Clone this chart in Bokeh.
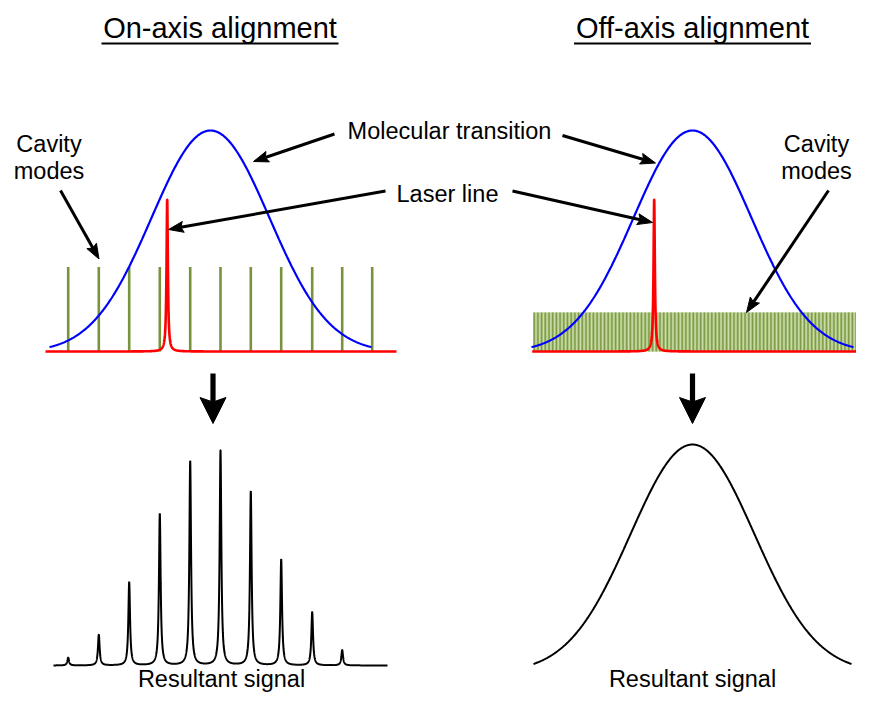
import numpy as np
from bokeh.plotting import figure
from bokeh.models import Range1d
from bokeh.embed import file_html
from bokeh.resources import INLINE
from bokeh.core.properties import value

# ---------------- data (diagram units) ----------------
# panel titles
titles = ["On-axis alignment", "Off-axis alignment"]
title_x = [219.5, 692.0]

# molecular transition (Gaussian) for each panel
transition_center = [210.0, 692.0]
transition_amp = 222.0
transition_sigma = 59.0
transition_half_span = 161.0

# cavity modes, on-axis (discrete comb)
mode_x = [67.7, 98.3, 128.7, 159.3, 189.7, 220.0, 250.3, 280.7, 311.7, 341.7, 371.7]
mode_height = 84.5

# off-axis: dense continuum of modes (band)
band_left, band_right, band_height = 532.7, 866.7, 39.0

# laser line
laser_x = [166.7, 653.7]
laser_height = 152.0
laser_gamma = 0.8

# resultant signal, on-axis: peak heights at each cavity mode
signal_heights = [7.7, 30.7, 83.3, 151.7, 204.3, 215.0, 174.0, 106.0, 53.3, 15.3, 0.0]
signal_gamma = 1.0

# resultant signal, off-axis: smooth Gaussian
offaxis_center = 692.0
offaxis_amp = 228.0
offaxis_sigma = 62.0
offaxis_half_span = 159.0

# annotation labels (alphabetic baselines)
label_text = ["Molecular transition", "Laser line", "Cavity", "modes", "Cavity", "modes",
              "Resultant signal", "Resultant signal"]
label_x = [449.0, 447.0, 48.5, 48.5, 816.0, 816.0, 221.0, 692.0]
label_base = [138.5, 201.5, 152.0, 178.5, 152.0, 178.5, 687.0, 687.0]

# annotation arrows (start -> tip)
arrow_x0 = [334.0, 562.0, 385.0, 512.0, 60.0, 828.0]
arrow_y0 = [133.5, 135.0, 190.5, 190.5, 190.0, 190.0]
arrow_x1 = [253.0, 655.0, 168.0, 652.0, 98.5, 746.0]
arrow_y1 = [161.0, 162.5, 229.0, 222.0, 258.5, 312.0]

# block arrows pointing down to the resultant signal
down_x = [212.5, 692.0]

# ---------------- figure ----------------
W, H = 856, 694
p = figure(width=W, height=H, output_backend="svg", toolbar_location=None,
           x_range=Range1d(0, W), y_range=Range1d(H, 0),
           min_border=0, outline_line_color=None)
p.axis.visible = False
p.xgrid.visible = False
p.ygrid.visible = False
p.background_fill_color = "white"
p.border_fill_color = "white"

FONT = value("Liberation Sans")
BASE_TOP = 351.0      # spectrum baseline (top panels)
BASE_BOT = 665.0      # resultant baseline (bottom panels)
LABEL_PX = 23.5
TITLE_PX = 29.0
SHIFT = 0.35          # renderer places alphabetic text this many em lower

# ---- titles with underline ----
p.text(x=title_x, y=[38.0 - SHIFT * TITLE_PX] * 2, text=titles, text_align="center",
       text_baseline="alphabetic", text_font=FONT, text_font_size=value(f"{TITLE_PX}px"),
       text_color="black")
p.segment(x0=[x - 118.5 for x in title_x], y0=[43.0, 43.0],
          x1=[x + 118.5 for x in title_x], y1=[43.0, 43.0],
          line_color="black", line_width=2.2)

# ---- off-axis mode band ----
p.quad(left=[band_left], right=[band_right], top=[BASE_TOP - band_height],
       bottom=[BASE_TOP], fill_color="#A9C27C", line_color=None)
sx = np.arange(band_left + 1.0, band_right, 3.7)
p.segment(x0=sx, y0=np.full(len(sx), BASE_TOP - band_height), x1=sx,
          y1=np.full(len(sx), BASE_TOP), line_color="#7F9B49", line_width=1.3)
sx2 = sx + 1.85
sx2 = sx2[sx2 < band_right]
p.segment(x0=sx2, y0=np.full(len(sx2), BASE_TOP - band_height), x1=sx2,
          y1=np.full(len(sx2), BASE_TOP), line_color="#CCDCAA", line_width=1.1)

# ---- on-axis cavity modes ----
p.segment(x0=mode_x, y0=[BASE_TOP] * len(mode_x), x1=mode_x,
          y1=[BASE_TOP - mode_height] * len(mode_x), line_color="#77933C", line_width=2.6)

# ---- molecular transitions (blue) ----
for c in transition_center:
    xs = np.linspace(c - transition_half_span, c + transition_half_span, 500)
    ys = BASE_TOP + 1.0 - transition_amp * np.exp(-(xs - c) ** 2 / (2 * transition_sigma ** 2))
    p.line(xs, ys, line_color="#0000FF", line_width=2.2)

# ---- laser lines (red) ----
red_ranges = [(45.0, 396.0), (531.7, 872.0)]
for (a, b), lx in zip(red_ranges, laser_x):
    xs = np.unique(np.concatenate([np.linspace(a, b, 600), np.linspace(lx - 8, lx + 8, 400)]))
    ys = BASE_TOP - laser_height * laser_gamma ** 2 / ((xs - lx) ** 2 + laser_gamma ** 2)
    p.line(xs, ys, line_color="#FF0000", line_width=2.6)

# ---- resultant signal, on-axis ----
xs = np.linspace(53.0, 387.0, 6000)
ys = np.full_like(xs, BASE_BOT)
for mx, h in zip(mode_x, signal_heights):
    ys -= h * signal_gamma ** 2 / ((xs - mx) ** 2 + signal_gamma ** 2)
p.line(xs, ys, line_color="black", line_width=2.0)

# ---- resultant signal, off-axis ----
xs = np.linspace(offaxis_center - offaxis_half_span, offaxis_center + offaxis_half_span, 500)
ys = 672.0 - offaxis_amp * np.exp(-(xs - offaxis_center) ** 2 / (2 * offaxis_sigma ** 2))
p.line(xs, ys, line_color="black", line_width=2.0)

# ---- annotation arrows ----
def head(x0, y0, x1, y1, L, Wd, notch):
    d = np.array([x1 - x0, y1 - y0], dtype=float)
    d /= np.hypot(*d)
    n = np.array([-d[1], d[0]])
    tip = np.array([x1, y1])
    base = tip - L * d
    left = base + Wd * n
    right = base - Wd * n
    nt = tip - (L - notch) * d
    pts = [tip, left, nt, right]
    return [q[0] for q in pts], [q[1] for q in pts], nt

hx, hy, sx0, sy0, sx1, sy1 = [], [], [], [], [], []
for x0, y0, x1, y1 in zip(arrow_x0, arrow_y0, arrow_x1, arrow_y1):
    px, py, nt = head(x0, y0, x1, y1, 15.0, 5.5, 2.5)
    hx.append(px); hy.append(py)
    sx0.append(x0); sy0.append(y0); sx1.append(nt[0]); sy1.append(nt[1])
p.segment(x0=sx0, y0=sy0, x1=sx1, y1=sy1, line_color="black", line_width=3.0)
p.patches(hx, hy, fill_color="black", line_color="black", line_width=1)

# ---- block down arrows ----
dhx, dhy = [], []
for dx in down_x:
    px, py, nt = head(dx, 373.0, dx, 423.0, 26.0, 13.0, 4.5)
    dhx.append(px); dhy.append(py)
p.quad(left=[dx - 2.6 for dx in down_x], right=[dx + 2.6 for dx in down_x],
       top=[373.0] * 2, bottom=[402.0] * 2, fill_color="black", line_color=None)
p.patches(dhx, dhy, fill_color="black", line_color="black", line_width=1)

# ---- labels ----
p.text(x=label_x, y=[b - SHIFT * LABEL_PX for b in label_base], text=label_text,
       text_align="center", text_baseline="alphabetic", text_font=FONT,
       text_font_size=value(f"{LABEL_PX}px"), text_color="black")

open("out.html", "w").write(file_html(p, INLINE))
